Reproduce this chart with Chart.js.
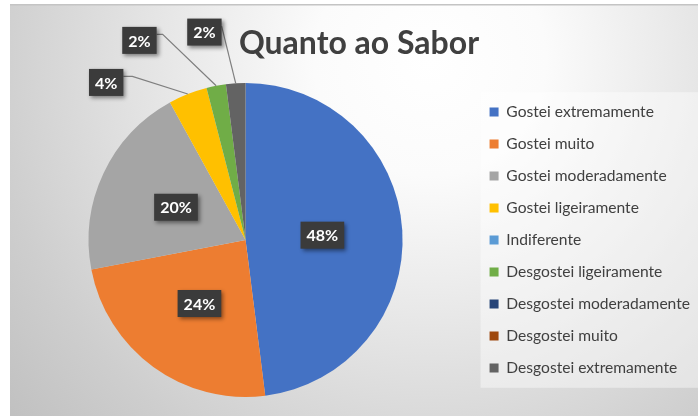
<!DOCTYPE html>
<html>
<head>
<meta charset="utf-8">
<script src="https://cdn.jsdelivr.net/npm/chart.js@4/dist/chart.umd.min.js"></script>
<style>
  html, body { margin: 0; padding: 0; background: #ffffff; }
  #wrap { width: 698px; height: 416px; }
</style>
</head>
<body>
<div id="wrap"><canvas id="c" width="698" height="416"></canvas></div>
<script>
const titleText = 'Quanto ao Sabor';
const categories = [
  'Gostei extremamente',
  'Gostei muito',
  'Gostei moderadamente',
  'Gostei ligeiramente',
  'Indiferente',
  'Desgostei ligeiramente',
  'Desgostei moderadamente',
  'Desgostei muito',
  'Desgostei extremamente'
];
const values = [48, 24, 20, 4, 0, 2, 0, 0, 2];

const colors = ['#4472C4', '#ED7D31', '#A5A5A5', '#FFC000', '#5B9BD5', '#70AD47', '#264478', '#9E480E', '#636363'];
// label placement styles: inside -> fraction of radius along mid angle;
// outside -> angle offset (deg), radius factor, elbow length
const labelPlacement = [
  { inside: 0.49 },
  { inside: 0.5 },
  { inside: 0.49 },
  { offset: -19.9, factor: 1.34, elbow: 9 },
  null,
  { offset: -17.2, factor: 1.44, elbow: 6 },
  null,
  null,
  { offset: -7.6, factor: 1.35, elbow: 0 }
];

const FONT = 'Lato, "Open Sans", "DejaVu Sans", sans-serif';

const bgPlugin = {
  id: 'bgPlugin',
  beforeDraw(chart) {
    const ctx = chart.ctx;
    const W = chart.width, H = chart.height;
    ctx.save();
    ctx.fillStyle = '#ffffff';
    ctx.fillRect(0, 0, W, H);
    const g = ctx.createRadialGradient(430, 60, 0, 430, 60, 580);
    g.addColorStop(0, '#ffffff');
    g.addColorStop(0.2, '#fbfbfb');
    g.addColorStop(0.44, '#e8e8e8');
    g.addColorStop(0.76, '#cecece');
    g.addColorStop(1, '#bdbdbd');
    ctx.fillStyle = g;
    ctx.fillRect(10, 4, W - 10, H - 4);
    ctx.fillStyle = '#c4c4c4';
    ctx.fillRect(10, 4, W - 10, 1.5);
    // legend panel
    const lg = chart.legend;
    if (lg && lg.legendHitBoxes && lg.legendHitBoxes.length) {
      const hb = lg.legendHitBoxes;
      const first = hb[0], last = hb[hb.length - 1];
      const x0 = first.left - 9;
      const y0 = first.top - 12;
      const y1 = last.top + last.height + 12;
      ctx.fillStyle = 'rgba(255,255,255,0.42)';
      ctx.fillRect(x0, y0, W - x0, y1 - y0);
    }
    ctx.restore();
  }
};

const labelPlugin = {
  id: 'labelPlugin',
  afterDatasetsDraw(chart) {
    const ctx = chart.ctx;
    const meta = chart.getDatasetMeta(0);
    const data = chart.data.datasets[0].data;
    const total = data.reduce((a, b) => a + b, 0);
    ctx.save();
    ctx.font = 'bold 16px ' + FONT;
    meta.data.forEach((arc, i) => {
      const v = data[i];
      const pl = labelPlacement[i];
      if (!v || !pl) return;
      const p = arc.getProps(['x', 'y', 'startAngle', 'endAngle', 'outerRadius'], true);
      const mid = (p.startAngle + p.endAngle) / 2;
      let cx, cy;
      if (pl.inside !== undefined) {
        cx = p.x + Math.cos(mid) * p.outerRadius * pl.inside;
        cy = p.y + Math.sin(mid) * p.outerRadius * pl.inside;
      } else {
        const a = mid + pl.offset * Math.PI / 180;
        cx = p.x + Math.cos(a) * p.outerRadius * pl.factor;
        cy = p.y + Math.sin(a) * p.outerRadius * pl.factor;
      }
      const text = Math.round(v / total * 100) + '%';
      const tw = ctx.measureText(text).width;
      const bw = tw + 12, bh = 27;
      const bx = cx - bw / 2, by = cy - bh / 2;
      if (pl.inside === undefined) {
        const ex = p.x + Math.cos(mid) * p.outerRadius;
        const ey = p.y + Math.sin(mid) * p.outerRadius;
        const sx = bx + bw;
        const sy = cy - 6;
        ctx.strokeStyle = '#7f7f7f';
        ctx.lineWidth = 1.2;
        ctx.beginPath();
        ctx.moveTo(sx, sy);
        ctx.lineTo(sx + pl.elbow, sy);
        ctx.lineTo(ex, ey);
        ctx.stroke();
      }
      ctx.save();
      ctx.shadowColor = 'rgba(0,0,0,0.45)';
      ctx.shadowBlur = 4;
      ctx.shadowOffsetX = 2;
      ctx.shadowOffsetY = 2;
      ctx.fillStyle = '#3b3b3b';
      ctx.fillRect(bx, by, bw, bh);
      ctx.restore();
      ctx.fillStyle = '#ffffff';
      ctx.textAlign = 'center';
      ctx.textBaseline = 'middle';
      ctx.fillText(text, cx, cy + 1);
    });
    ctx.restore();
  }
};

new Chart(document.getElementById('c'), {
  type: 'pie',
  data: {
    labels: categories,
    datasets: [{
      data: values,
      backgroundColor: colors,
      borderWidth: 0
    }]
  },
  options: {
    responsive: false,
    animation: false,
    events: [],
    layout: { padding: { top: 4, left: 18, right: -2, bottom: 19 } },
    plugins: {
      title: {
        display: true,
        text: titleText,
        color: '#404040',
        font: { family: FONT, size: 32, weight: 'bold', lineHeight: '36px' },
        padding: { top: 22, bottom: 21 }
      },
      legend: {
        position: 'right',
        fullSize: false,
        labels: {
          color: '#404040',
          font: { family: FONT, size: 15.6 },
          boxWidth: 9,
          boxHeight: 9,
          padding: 16.4
        }
      },
      tooltip: { enabled: false }
    }
  },
  plugins: [bgPlugin, labelPlugin]
});
</script>
</body>
</html>
